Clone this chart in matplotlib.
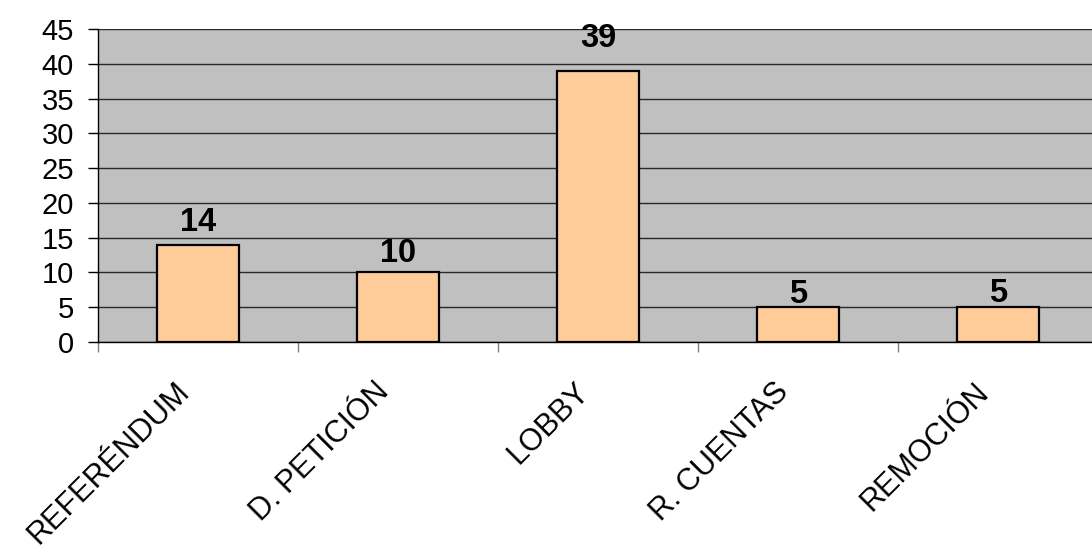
import matplotlib
matplotlib.use("Agg")
import matplotlib.pyplot as plt
from matplotlib.ticker import MultipleLocator, FixedLocator
from matplotlib.transforms import ScaledTranslation
import numpy as np

plt.rcParams['font.family'] = ['Liberation Sans', 'DejaVu Sans']

categories = ["REFERÉNDUM", "D. PETICIÓN", "LOBBY", "R. CUENTAS", "REMOCIÓN"]
values = [14, 10, 39, 5, 5]

# distance (points) between each value label's baseline and its bar top
label_gap = [9.8, 7.2, 17.3, 2.9, 4.0]

fig = plt.figure(figsize=(10.92, 5.52), dpi=100)
ax = fig.add_axes([98 / 1092, 1 - 342 / 552, 1000 / 1092, 313 / 552])
ax.set_facecolor("#C0C0C0")

x = np.arange(len(categories))
ax.bar(x, values, width=0.41, color="#FFCC99", edgecolor="black",
       linewidth=1.6, zorder=3)

ax.set_xlim(-0.5, len(categories) - 0.5)
ax.set_ylim(0, 45)
ax.yaxis.set_major_locator(MultipleLocator(5))
ax.yaxis.grid(True, color="#282828", linewidth=1.0, zorder=1)
ax.set_axisbelow(True)

for s in ("top", "right"):
    ax.spines[s].set_visible(False)
for s in ("left", "bottom"):
    ax.spines[s].set_color("black")
    ax.spines[s].set_linewidth(1.0)

ax.tick_params(axis="y", direction="out", length=7.2, width=1.0, color="black",
               labelsize=21, pad=10)

# category names under each bar, boundary marks as minor ticks
ax.set_xticks(x)
ax.set_xticklabels(categories, rotation=45, ha="right", va="top",
                   rotation_mode="anchor", fontsize=22)
ax.tick_params(axis="x", which="major", length=0, pad=25)
shift = ScaledTranslation(-24 / 100, 0, fig.dpi_scale_trans)
for lbl in ax.get_xticklabels():
    lbl.set_transform(lbl.get_transform() + shift)
ax.xaxis.set_minor_locator(FixedLocator(np.arange(len(categories)) - 0.5))
ax.tick_params(axis="x", which="minor", length=7.2, width=1.0, color="#808080")

for xi, v, g in zip(x, values, label_gap):
    ax.annotate(f"{v}", xy=(xi, v), xytext=(0, g), textcoords="offset points",
                ha="center", va="baseline", fontsize=23.5, fontweight="bold",
                color="black", zorder=5, annotation_clip=False)

fig.savefig("out.png", dpi=100)
